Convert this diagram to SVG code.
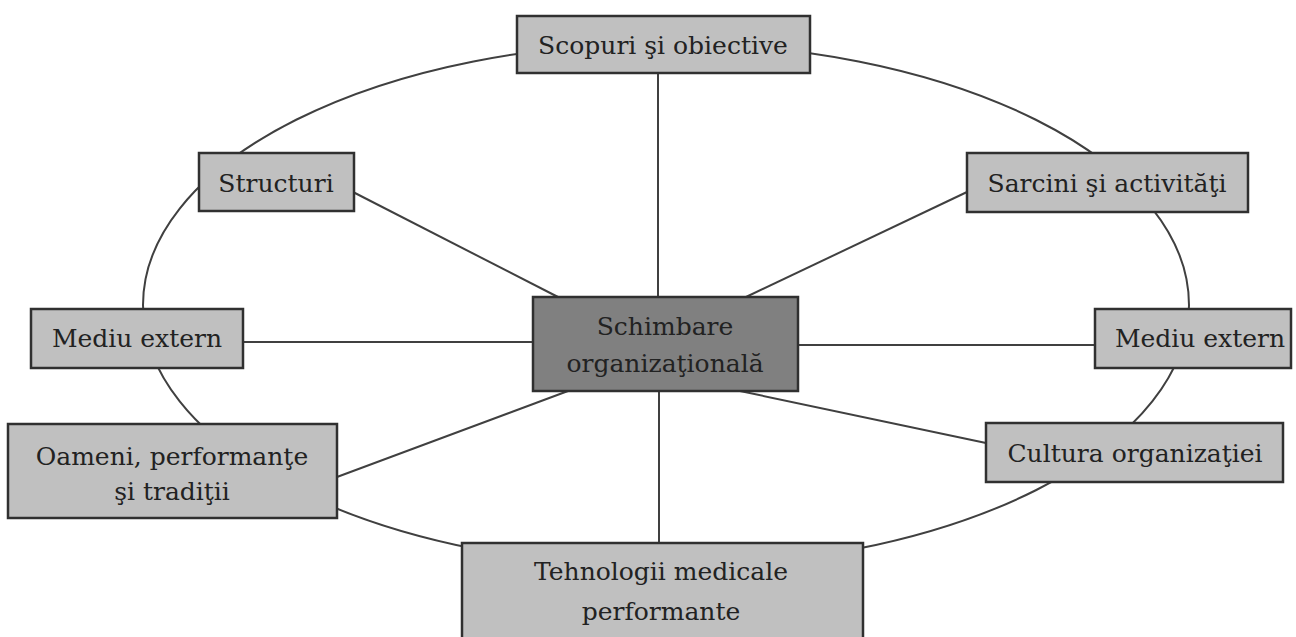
<svg xmlns="http://www.w3.org/2000/svg" width="1296" height="637" viewBox="0 0 1296 637">
<style>
.box{fill:#c0c0c0;stroke:#303030;stroke-width:2.5}
.center{fill:#808080;stroke:#303030;stroke-width:2.5}
.ln{stroke:#404040;stroke-width:2;fill:none}
text{font-family:"DejaVu Serif","Liberation Serif",serif;font-size:25px;fill:#222;text-anchor:middle}
</style>
<rect width="1296" height="637" fill="#fff"/>
<g id="connectors">
<ellipse class="ln" cx="666" cy="305" rx="523" ry="262"/>
<line class="ln" x1="658" y1="73" x2="658" y2="297"/>
<line class="ln" x1="353" y1="192" x2="558" y2="297"/>
<line class="ln" x1="967" y1="192" x2="746" y2="297"/>
<line class="ln" x1="243" y1="342" x2="533" y2="342"/>
<line class="ln" x1="798" y1="345" x2="1095" y2="345"/>
<line class="ln" x1="337" y1="477" x2="568" y2="391"/>
<line class="ln" x1="740" y1="391" x2="986" y2="443"/>
<line class="ln" x1="659" y1="391" x2="659" y2="543"/>
</g>
<g id="scopuri"><rect class="box" x="517" y="16" width="293" height="57"/><text x="663" y="54">Scopuri şi obiective</text></g>
<g id="structuri"><rect class="box" x="199" y="153" width="155" height="58"/><text x="276" y="192">Structuri</text></g>
<g id="sarcini"><rect class="box" x="967" y="153" width="281" height="59"/><text x="1107" y="192">Sarcini şi activităţi</text></g>
<g id="mediu-stanga"><rect class="box" x="31" y="309" width="212" height="59"/><text x="137" y="347">Mediu extern</text></g>
<g id="mediu-dreapta"><rect class="box" x="1095" y="309" width="196" height="59"/><text x="1200" y="347">Mediu extern</text></g>
<g id="schimbare"><rect class="center" x="533" y="297" width="265" height="94"/><text x="665" y="335">Schimbare</text><text x="665" y="372">organizaţională</text></g>
<g id="oameni"><rect class="box" x="8" y="424" width="329" height="94"/><text x="172" y="465">Oameni, performanţe</text><text x="172" y="500">şi tradiţii</text></g>
<g id="cultura"><rect class="box" x="986" y="423" width="297" height="59"/><text x="1135" y="462">Cultura organizaţiei</text></g>
<g id="tehnologii"><rect class="box" x="462" y="543" width="401" height="100"/><text x="661" y="580">Tehnologii medicale</text><text x="661" y="620">performante</text></g>
</svg>
